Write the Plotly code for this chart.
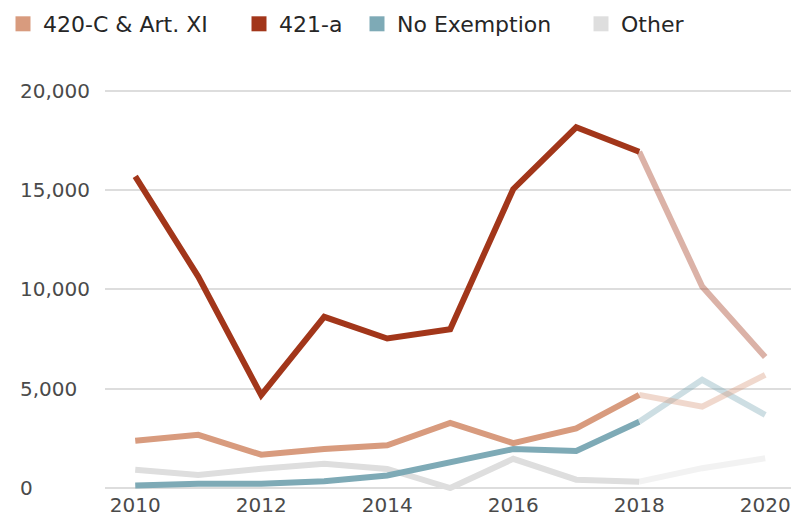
import plotly.graph_objects as go

years = [2010, 2011, 2012, 2013, 2014, 2015, 2016, 2017, 2018, 2019, 2020]
series_names = ["420-C & Art. XI", "421-a", "No Exemption", "Other"]
v_420c = [2380, 2680, 1680, 1970, 2150, 3280, 2260, 3000, 4690, 4100, 5700]
v_421a = [15700, 10650, 4680, 8620, 7530, 8000, 15050, 18170, 16940, 10150, 6600]
v_noex = [130, 220, 220, 340, 630, 1280, 1960, 1870, 3340, 5450, 3680]
v_other = [920, 660, 970, 1220, 960, 0, 1470, 420, 320, 1000, 1500]
y_ticks = [0, 5000, 10000, 15000, 20000]
x_ticks = [2010, 2012, 2014, 2016, 2018, 2020]
split_year = 2018

colors = ["#d89b7e", "#a2361a", "#7eaab6", "#dedede"]
values = [v_420c, v_421a, v_noex, v_other]
legend_ids = ["legend", "legend2", "legend3", "legend4"]
legend_x_px = [3, 239, 357, 581]

W, H = 791, 519
fig = go.Figure()
k = years.index(split_year)
draw_order = [3, 2, 0, 1]
# faded (projection) segments
for i in draw_order:
    fig.add_trace(go.Scatter(x=years[k:], y=values[i][k:], mode="lines",
                             line=dict(color=colors[i], width=6),
                             opacity=0.38, showlegend=False, hoverinfo="skip"))
for i in draw_order:
    fig.add_trace(go.Scatter(x=years[:k + 1], y=values[i][:k + 1], mode="lines",
                             line=dict(color=colors[i], width=6),
                             showlegend=False))
# legend entries (square swatches)
for i in range(4):
    fig.add_trace(go.Scatter(x=[None], y=[None], mode="markers", name=series_names[i],
                             marker=dict(symbol="square", size=15, color=colors[i]),
                             showlegend=True, legend=legend_ids[i]))

for t in y_ticks:
    fig.add_annotation(x=-0.127, xref="paper", y=t, yref="y", text=f"{t:,}",
                       showarrow=False, xanchor="left", yanchor="middle",
                       font=dict(family="DejaVu Sans", size=20, color="#4a4a4a"))

leg_common = dict(orientation="h", xref="container", yref="container",
                  xanchor="left", yanchor="middle", y=1 - 24 / H,
                  font=dict(family="DejaVu Sans", size=22, color="#262626"),
                  itemwidth=30, bgcolor="rgba(0,0,0,0)")
legends = {}
for lid, px in zip(legend_ids, legend_x_px):
    legends[lid] = dict(leg_common, x=px / W)

fig.update_layout(
    width=W, height=H,
    margin=dict(l=105, r=0, t=85, b=28, autoexpand=False),
    paper_bgcolor="white", plot_bgcolor="white",
    showlegend=True,
    xaxis=dict(range=[2009.52, 2020.41], tickvals=x_ticks, showgrid=False,
               zeroline=False, showline=False, ticks="",
               tickfont=dict(family="DejaVu Sans", size=20, color="#4a4a4a")),
    yaxis=dict(range=[-150, 20300], tickvals=y_ticks, showticklabels=False,
               showgrid=True, gridcolor="#dddddd", gridwidth=2,
               zeroline=False, showline=False, ticks=""),
    **legends,
)

fig.write_html("out.html", config={"displayModeBar": False},
               post_script="document.body.style.margin='0';document.body.style.overflow='hidden';")
